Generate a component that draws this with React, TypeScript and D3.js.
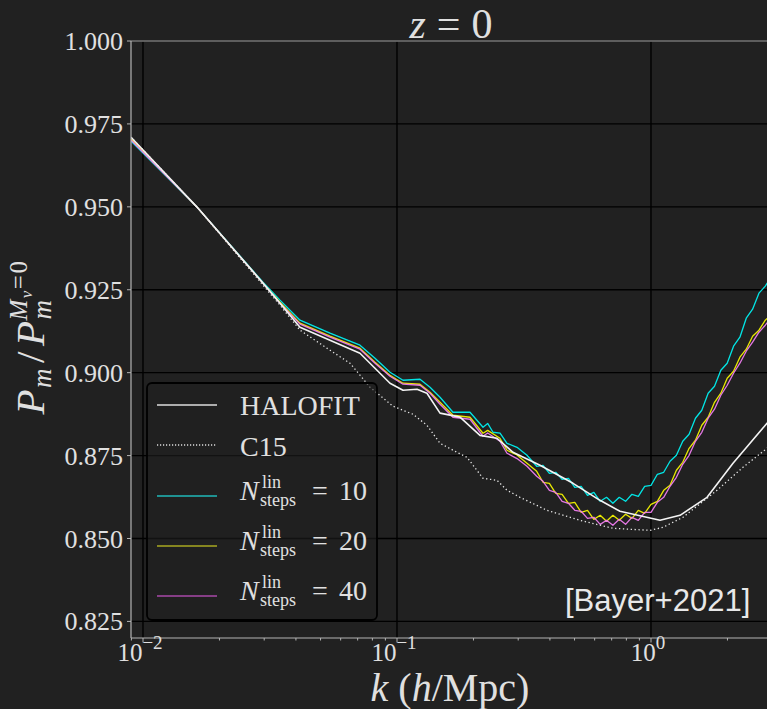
import React from 'react';
import * as d3 from 'd3';

// y ticks and x decade ticks
const yTicks = [0.825, 0.85, 0.875, 0.9, 0.925, 0.95, 0.975, 1.0];
const xTicks = [0.01, 0.1, 1];
const xTickExponents = ['−2', '−1', '0'];

// [k (h/Mpc), P_m / P_m^{Mnu=0}]
const halofit: [number, number][] = [
  [0.00897, 0.971], [0.01632, 0.94992], [0.02968, 0.92699], [0.03462, 0.92095],
  [0.0415, 0.91371], [0.05447, 0.90979], [0.07149, 0.90587], [0.08192, 0.90134],
  [0.09385, 0.89682], [0.1056, 0.8947], [0.1199, 0.895], [0.1312, 0.8938],
  [0.1477, 0.8878], [0.177, 0.8866], [0.2122, 0.8811], [0.2475, 0.88022],
  [0.2862, 0.876], [0.3656, 0.87208], [0.4932, 0.86664], [0.6297, 0.86151],
  [0.755, 0.8582], [1.085, 0.85548], [1.301, 0.85699], [1.662, 0.86242],
  [2.103, 0.87268], [2.862, 0.88475], [3.86, 0.8977],
];

const c15: [number, number][] = [
  [0.00897, 0.971], [0.01632, 0.94992], [0.02968, 0.9264], [0.03462, 0.92035],
  [0.0415, 0.91281], [0.05447, 0.90677], [0.06531, 0.90285], [0.07826, 0.89561],
  [0.09645, 0.88988], [0.1156, 0.88746], [0.1312, 0.88414], [0.1477, 0.87871],
  [0.1722, 0.876], [0.1886, 0.87449], [0.2181, 0.86815], [0.2475, 0.86755],
  [0.2711, 0.86453], [0.305, 0.86242], [0.3896, 0.8585], [0.5254, 0.85548],
  [0.7086, 0.85307], [0.991, 0.85246], [1.115, 0.85337], [1.336, 0.85639],
  [1.819, 0.86453], [2.302, 0.87147], [2.862, 0.8772], [3.86, 0.8857],
];

const nSteps10: [number, number][] = [
  [0.00897, 0.96983], [0.01632, 0.94992], [0.02968, 0.92729], [0.03462, 0.92186],
  [0.0415, 0.91582], [0.05447, 0.9119], [0.07149, 0.90828], [0.08192, 0.90436],
  [0.09385, 0.90014], [0.1056, 0.89772], [0.1232, 0.89802], [0.1349, 0.89561],
  [0.1477, 0.89259], [0.1661, 0.88807], [0.1938, 0.88807], [0.2181, 0.88354],
  [0.2275, 0.8847], [0.2388, 0.88203], [0.2545, 0.8818], [0.2711, 0.87871],
  [0.2968, 0.8775], [0.3249, 0.87509], [0.3548, 0.87177], [0.3758, 0.87207],
  [0.3981, 0.86966], [0.4217, 0.86996], [0.4467, 0.86785], [0.4732, 0.86815],
  [0.5012, 0.86544], [0.5309, 0.86574], [0.5623, 0.86302], [0.5957, 0.86393],
  [0.631, 0.86121], [0.6683, 0.86242], [0.7079, 0.86061], [0.7499, 0.86242],
  [0.7943, 0.86121], [0.8414, 0.86333], [0.8913, 0.86272], [0.9441, 0.86574],
  [1.0, 0.86604], [1.0593, 0.86936], [1.122, 0.86996], [1.1885, 0.87328],
  [1.2589, 0.87509], [1.3335, 0.87932], [1.4125, 0.88143], [1.4962, 0.88626],
  [1.5849, 0.88867], [1.6788, 0.8938], [1.7783, 0.89591], [1.8836, 0.90074],
  [1.9953, 0.90285], [2.1135, 0.90798], [2.2387, 0.91069], [2.3714, 0.91643],
  [2.5119, 0.91914], [2.6607, 0.92397], [2.8184, 0.92608], [2.9854, 0.9291],
];

const nSteps20: [number, number][] = [
  [0.00897, 0.97043], [0.01632, 0.94992], [0.02968, 0.92699], [0.03462, 0.92126],
  [0.0415, 0.91492], [0.05447, 0.911], [0.07149, 0.90738], [0.08192, 0.90315],
  [0.09385, 0.89923], [0.1056, 0.89682], [0.1232, 0.89651], [0.1349, 0.8941],
  [0.1477, 0.89108], [0.1661, 0.88716], [0.1938, 0.88656], [0.2181, 0.88173],
  [0.2275, 0.8826], [0.2543, 0.88022], [0.2711, 0.8766], [0.2968, 0.8752],
  [0.3249, 0.87268], [0.3548, 0.87026], [0.3758, 0.86695], [0.3981, 0.86664],
  [0.4217, 0.86363], [0.4467, 0.86333], [0.4732, 0.86061], [0.5012, 0.86091],
  [0.5309, 0.85789], [0.5623, 0.8585], [0.5957, 0.85578], [0.631, 0.85699],
  [0.6683, 0.85518], [0.7079, 0.85699], [0.7499, 0.85548], [0.7943, 0.85729],
  [0.8414, 0.85608], [0.8913, 0.8585], [0.9441, 0.85759], [1.0, 0.86031],
  [1.0593, 0.86121], [1.122, 0.86453], [1.1885, 0.86604], [1.2589, 0.87057],
  [1.3335, 0.87298], [1.4125, 0.8772], [1.4962, 0.87962], [1.5849, 0.88414],
  [1.6788, 0.88656], [1.7783, 0.89108], [1.8836, 0.8938], [1.9953, 0.89832],
  [2.1135, 0.90044], [2.2387, 0.90466], [2.3714, 0.90707], [2.5119, 0.911],
  [2.6607, 0.91281], [2.8184, 0.91582], [2.9854, 0.91763],
];

const nSteps40: [number, number][] = [
  [0.00897, 0.97013], [0.01632, 0.94992], [0.02968, 0.92699], [0.03462, 0.92096],
  [0.0415, 0.91462], [0.05447, 0.9107], [0.07149, 0.90708], [0.08192, 0.90285],
  [0.09385, 0.89893], [0.1056, 0.89652], [0.1232, 0.89621], [0.1349, 0.8938],
  [0.1477, 0.89048], [0.1661, 0.88656], [0.1938, 0.88596], [0.2181, 0.88083],
  [0.2275, 0.8818], [0.2543, 0.87932], [0.2711, 0.8757], [0.2968, 0.8741],
  [0.3249, 0.87178], [0.3548, 0.86876], [0.3758, 0.86725], [0.3981, 0.86453],
  [0.4217, 0.86393], [0.4467, 0.86121], [0.4732, 0.86061], [0.5012, 0.8585],
  [0.5309, 0.8582], [0.5623, 0.85608], [0.5957, 0.85639], [0.631, 0.85427],
  [0.6683, 0.85548], [0.7079, 0.85397], [0.7499, 0.85578], [0.7943, 0.85427],
  [0.8414, 0.85639], [0.8913, 0.85548], [0.9441, 0.85789], [1.0, 0.85789],
  [1.0593, 0.86091], [1.122, 0.86242], [1.1885, 0.86574], [1.2589, 0.86845],
  [1.3335, 0.87238], [1.4125, 0.87509], [1.4962, 0.87932], [1.5849, 0.88203],
  [1.6788, 0.88626], [1.7783, 0.88897], [1.8836, 0.89319], [1.9953, 0.89621],
  [2.1135, 0.89983], [2.2387, 0.90285], [2.3714, 0.90647], [2.5119, 0.90919],
  [2.6607, 0.9122], [2.8184, 0.91431], [2.9854, 0.91673],
];

const nStepsValues = ['10', '20', '40'];

const BG = '#212121';
const TEXT = '#e0e0e0';
const SERIF = '"Liberation Serif", "Times New Roman", serif';

export default function App() {
  const width = 767;
  const height = 709;
  const plot = { left: 131, right: 771, top: 41, bottom: 638 };

  const x = d3.scaleLog().domain([0.01, 1]).range([143, 651]);
  const y = d3.scaleLinear().domain([0.82, 1.0]).range([plot.bottom, plot.top]);

  const line = d3
    .line<[number, number]>()
    .x((d) => x(d[0]))
    .y((d) => y(d[1]));

  const kMin = x.invert(plot.left);
  const kMax = x.invert(plot.right);
  const minorTicks: number[] = [];
  for (let e = -3; e <= 0; e++) {
    for (let m = 2; m <= 9; m++) {
      const v = m * Math.pow(10, e);
      if (v >= kMin && v <= kMax) minorTicks.push(v);
    }
  }

  const curves = [
    { data: nSteps10, color: '#00f0f0', width: 1.3, dash: undefined, opacity: 0.95 },
    { data: nSteps20, color: '#f2f200', width: 1.3, dash: undefined, opacity: 0.95 },
    { data: nSteps40, color: '#ee7cee', width: 1.3, dash: undefined, opacity: 0.95 },
    { data: halofit, color: '#f4f4f4', width: 1.6, dash: undefined, opacity: 1 },
    { data: c15, color: '#e8e8e8', width: 1.3, dash: '1.3 2.6', opacity: 1 },
  ];

  const legendRows = [
    { y: 405, color: '#dcdcdc', dash: undefined },
    { y: 445, color: '#dcdcdc', dash: '1.2 1.8' },
    { y: 496, color: '#1fb8b8' },
    { y: 546, color: '#a8a820' },
    { y: 596, color: '#a848a8' },
  ];

  return (
    <svg
      width={width}
      height={height}
      style={{ position: 'absolute', left: 0, top: 0, background: BG }}
      fontFamily={SERIF}
    >
      <rect x={0} y={0} width={width} height={height} fill={BG} />
      <defs>
        <clipPath id="plot-clip">
          <rect
            x={plot.left}
            y={plot.top}
            width={plot.right - plot.left}
            height={plot.bottom - plot.top}
          />
        </clipPath>
      </defs>

      {/* grid */}
      <g stroke="#000" strokeWidth={1.4}>
        {xTicks.map((t) => (
          <line key={t} x1={x(t)} x2={x(t)} y1={plot.top} y2={plot.bottom} />
        ))}
        {yTicks.map((t) => (
          <line key={t} x1={plot.left} x2={plot.right} y1={y(t)} y2={y(t)} />
        ))}
      </g>

      {/* curves */}
      <g clipPath="url(#plot-clip)" fill="none" strokeLinejoin="round">
        {curves.map((c, i) => (
          <path
            key={i}
            d={line(c.data) || ''}
            stroke={c.color}
            strokeWidth={c.width}
            strokeDasharray={c.dash}
            strokeOpacity={c.opacity}
          />
        ))}
      </g>

      {/* spines */}
      <g stroke="#b4b4b4" strokeWidth={1.2} fill="none">
        <line x1={plot.left} x2={plot.left} y1={plot.top} y2={plot.bottom} />
        <line x1={plot.left} x2={plot.right} y1={plot.top} y2={plot.top} />
        <line x1={plot.left} x2={plot.right} y1={plot.bottom} y2={plot.bottom} />
      </g>

      {/* y ticks */}
      <g>
        {yTicks.map((t) => (
          <g key={t}>
            <line x1={plot.left - 4} x2={plot.left} y1={y(t)} y2={y(t)} stroke="#b4b4b4" strokeWidth={1} />
            <text x={123} y={y(t) + 9} textAnchor="end" fontSize={26} fill={TEXT}>
              {t.toFixed(3)}
            </text>
          </g>
        ))}
      </g>

      {/* x ticks */}
      <g>
        {minorTicks.map((t) => (
          <line key={t} x1={x(t)} x2={x(t)} y1={plot.bottom} y2={plot.bottom + 2.5} stroke="#b4b4b4" strokeWidth={1} />
        ))}
        {xTicks.map((t, i) => (
          <g key={t}>
            <line x1={x(t)} x2={x(t)} y1={plot.bottom} y2={plot.bottom + 4.5} stroke="#b4b4b4" strokeWidth={1} />
            <text x={x(t) - 3} y={661} textAnchor="middle" fontSize={25} fill={TEXT}>
              10
              <tspan fontSize={19} dy={-12}>
                {xTickExponents[i]}
              </tspan>
            </text>
          </g>
        ))}
      </g>

      {/* legend */}
      <g>
        <rect x={147} y={383} width={230} height={237} rx={5} fill={BG} fillOpacity={0.55} stroke="#000" strokeWidth={1.8} />
        {legendRows.map((r, i) => (
          <line
            key={i}
            x1={157}
            x2={217}
            y1={r.y}
            y2={r.y}
            stroke={r.color}
            strokeWidth={1.4}
            strokeDasharray={r.dash}
          />
        ))}
        <text x={240} y={415} fontSize={28} fill={TEXT}>HALOFIT</text>
        <text x={240} y={456} fontSize={28} fill={TEXT}>C15</text>
        {nStepsValues.map((v, i) => {
          const ry = legendRows[i + 2].y;
          return (
            <g key={v} fill={TEXT}>
              <text x={240} y={ry + 4} fontSize={28} fontStyle="italic">N</text>
              <text x={262} y={ry - 8} fontSize={18}>lin</text>
              <text x={260} y={ry + 10} fontSize={18}>steps</text>
              <text x={312} y={ry + 4} fontSize={28}>=</text>
              <text x={339} y={ry + 4} fontSize={28}>{v}</text>
            </g>
          );
        })}
      </g>

      {/* citation */}
      <text x={565} y={611} fontSize={31} fill="#e8e8e8" fontFamily='"Liberation Sans", Arial, sans-serif'>
        [Bayer+2021]
      </text>

      {/* title */}
      <text x={451} y={38} textAnchor="middle" fontSize={42} fill={TEXT}>
        <tspan fontStyle="italic">z</tspan>
        <tspan dx={11}>=</tspan>
        <tspan dx={11}>0</tspan>
      </text>

      {/* x label */}
      <text x={450} y={701} textAnchor="middle" fontSize={40} fill={TEXT}>
        <tspan fontStyle="italic">k</tspan>
        <tspan dx={10}>(</tspan>
        <tspan fontStyle="italic">h</tspan>
        <tspan>/Mpc)</tspan>
      </text>

      {/* y label */}
      <text
        transform="translate(44,337) rotate(-90)"
        textAnchor="middle"
        fontSize={41}
        fill={TEXT}
        letterSpacing={1.5}
      >
        <tspan fontStyle="italic">P</tspan>
        <tspan fontStyle="italic" fontSize={27} dy={7}>m</tspan>
        <tspan dx={4} dy={-7}>/</tspan>
        <tspan dx={4} fontStyle="italic">P</tspan>
        <tspan fontStyle="italic" fontSize={27} dy={7}>m</tspan>
        <tspan fontStyle="italic" fontSize={25} dx={-22} dy={-24}>M</tspan>
        <tspan fontStyle="italic" fontSize={17} dy={5}>ν</tspan>
        <tspan fontSize={25} dy={-5}>=0</tspan>
      </text>
    </svg>
  );
}
